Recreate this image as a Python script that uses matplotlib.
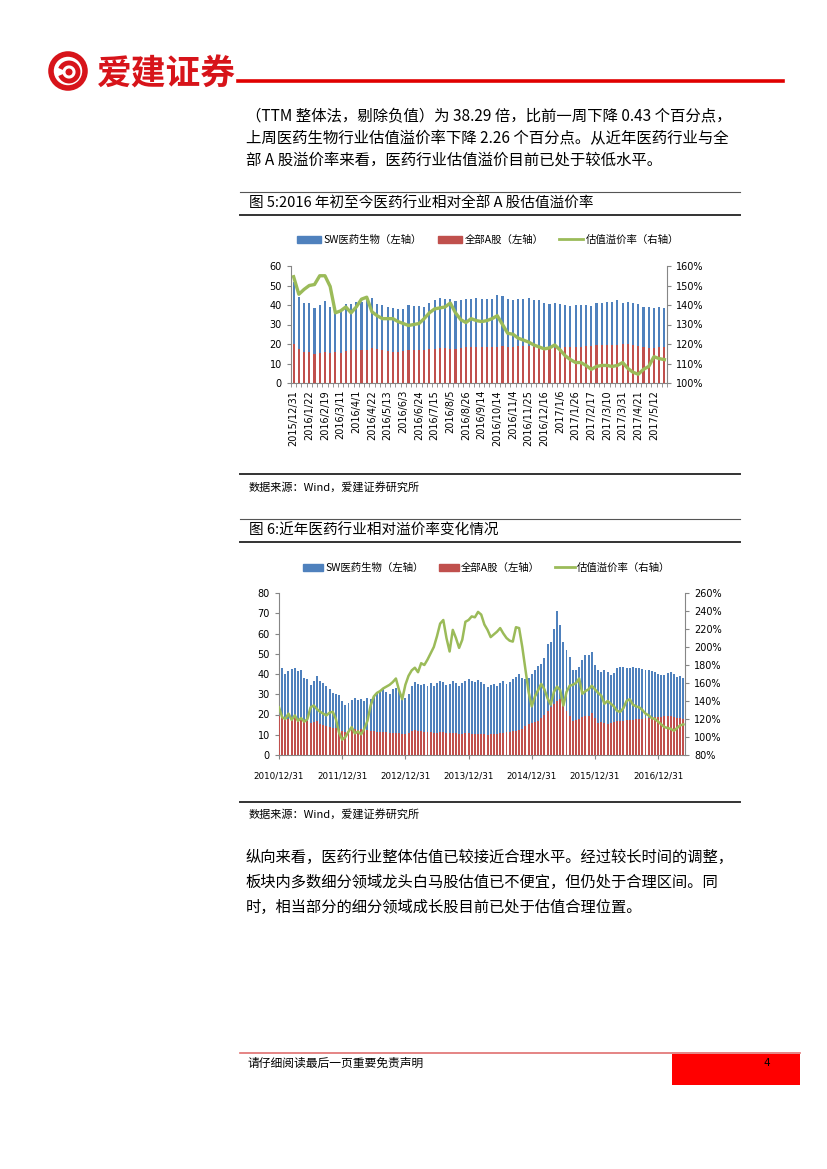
import numpy as np
import matplotlib
matplotlib.use("Agg")
import matplotlib.pyplot as plt
from matplotlib.lines import Line2D
from matplotlib.patches import Rectangle, Patch, Circle, Arc

plt.rcParams['font.family'] = ['Noto Sans CJK SC', 'DejaVu Sans']

W, H = 827, 1169

# ------------------------------------------------------ #
#        Data: 图5 (weekly, 2015/12/31 - 2017/5)         #
# ------------------------------------------------------ #
ticks5 = ['2015/12/31', '2016/1/22', '2016/2/19', '2016/3/11', '2016/4/1', '2016/4/22',
          '2016/5/13', '2016/6/3', '2016/6/24', '2016/7/15', '2016/8/5', '2016/8/26',
          '2016/9/14', '2016/10/14', '2016/11/4', '2016/11/25', '2016/12/16', '2017/1/6',
          '2017/1/26', '2017/2/17', '2017/3/10', '2017/3/31', '2017/4/21', '2017/5/12']

sw5 = [52, 44, 41, 41, 38.5, 40, 42, 39, 36, 37, 40.5, 40.5, 41.5, 41.5, 43, 43.5, 40.5, 40,
       39, 38.5, 38, 38, 40, 39.5, 39.5, 39, 41, 42.5, 43.5, 43, 43, 42, 42.5, 43, 43, 43.5,
       43, 43, 43, 45, 44.5, 43, 42.5, 43, 43, 43.5, 42.5, 42.5, 41, 40.5, 41, 40.5, 40, 39.5,
       40, 40, 40, 39.5, 41, 41, 41.5, 41.5, 42.5, 41, 41.5, 41, 40.5, 39, 39, 38.5, 39, 38.5]

a5 = [20, 17.5, 16, 16, 15, 15.5, 16, 15.5, 16, 15.5, 16.5, 17, 17, 17, 17, 18, 17.5, 17,
      16.5, 16, 16, 16.5, 17, 17, 17, 17, 17.5, 17.5, 18, 18, 17.5, 17.5, 18, 18.5, 18.5, 18.5,
      18.5, 18.5, 18.5, 18.5, 19, 18.5, 18.5, 19, 19, 19, 18.5, 18.5, 18, 18, 18, 18,
      18.5, 18.5, 18.5, 18.5, 19, 19, 19.5, 19.5, 19.5, 19.5, 19.5, 20, 20, 19.5, 19, 18.5, 18, 18, 18.5, 18.5]

prem5 = [154.5, 145.5, 148, 150, 150.5, 155, 155, 149.5, 136, 137, 139, 136, 139, 143, 144, 136.5,
         134.5, 133, 133, 133, 131.5, 130.5, 129.5, 130, 130.5, 133, 136, 138, 138.5, 139, 141, 136,
         132.5, 131, 133, 132,
         131.5, 132, 133, 134.5, 130, 125.5, 125, 123, 122, 121, 119.5, 118.5, 117.5, 118, 119.5, 117,
         114, 112, 110.5, 110.5, 109, 107, 108.5, 109, 109, 108.5, 109, 110.5, 107.5, 105.5, 104.5,
         107, 108.5, 113.5, 112.5, 112]

# ------------------------------------------------------ #
#        Data: 图6 (2010/12/31 - 2017/5)                 #
# ------------------------------------------------------ #
ticks6 = ['2010/12/31', '2011/12/31', '2012/12/31', '2013/12/31',
          '2014/12/31', '2015/12/31', '2016/12/31']

sw6 = [44, 43, 40, 41.5, 42.5, 43, 41.5, 42, 38, 37.5,
       34.5, 36.5, 39, 36.5, 35.5, 34, 32.5, 30.5, 30, 29.5,
       26.5, 24.5, 25.5, 27, 28, 27, 27.5, 26.5, 28, 27.5,
       29, 30.5, 31.5, 33, 31, 30, 32.5, 33, 32.5, 29,
       28, 30, 34, 36, 35, 34.5, 35, 34, 35.5, 34,
       35.5, 36.5, 36, 34.5, 35, 36.5, 35.5, 34, 35.5, 36.5,
       37.5, 36.5, 36, 37, 36, 35, 33.5, 34.5, 35, 34,
       35.5, 36.5, 35, 36, 37.5, 38.5, 40, 38, 37.5, 38,
       40, 42, 44, 45, 48, 55, 56, 62, 71, 64,
       56, 52, 48.5, 42, 42, 43.5, 47, 49.5, 49.5, 51,
       44.5, 42, 41, 42, 41, 39.5, 40.5, 43, 43.5, 43.5,
       43, 43, 43.5, 43, 43, 42.5, 42, 42, 41.5, 41,
       40, 39.5, 39.5, 40.5, 41, 40, 38.5, 39, 38]

a6 = [19.5, 18.5, 17.5, 18, 18.5, 19, 18, 18.5, 17, 17,
      16, 16.5, 17, 15.5, 15, 14.5, 14, 13.5, 13.5, 13,
      12, 11.5, 12, 12.5, 13, 12.5, 13, 12.5, 12.5, 12,
      12, 11.5, 11.5, 11.5, 11.5, 11, 11, 11, 11, 10.5,
      10.5, 11, 12, 12.5, 12, 12, 11.5, 11.5, 11.5, 11,
      11, 11.5, 11.5, 11, 11, 11, 11, 10.5, 10.5, 11,
      11, 10.5, 10.5, 10.5, 10.5, 10.5, 10, 10.5, 10.5, 10.5,
      11, 11, 11.5, 11.5, 12, 12, 12.5, 13, 14.5, 15.5,
      16, 16.5, 17, 18.5, 20, 21.5, 23.5, 25, 26.5, 27.5,
      25, 21.5, 19.5, 17, 17.5, 18, 19, 19.5, 19.5, 20.5,
      18.5, 16, 16.5, 16, 15.5, 16, 16.5, 17, 17, 17,
      17.5, 17.5, 17.5, 18, 18, 18, 18.5, 18.5, 19, 19,
      19, 19, 19.5, 19.5, 19.5, 19, 18.5, 18.5, 18]

prem6 = [133, 122, 120, 126, 119, 124, 118, 121, 117, 120,
         133, 135, 131, 128, 126, 124, 127, 128, 120, 105,
         97, 100, 106, 111, 104, 106, 103, 109, 118, 135,
         145, 149, 151, 154, 156, 158, 161, 165, 152, 142,
         158, 168, 174, 177, 172, 182, 180, 186, 193, 200,
         212, 226, 230, 210, 195, 219, 210, 199, 208, 228,
         230, 234, 233, 239, 236, 225, 219, 211, 214, 217,
         221, 215, 210, 207, 206, 222, 221, 200, 175, 150,
         134, 145, 152, 159, 153, 143, 136, 150, 156, 152,
         135, 150, 157, 158, 160, 165, 148, 151, 153, 157,
         153, 149, 146, 137, 140, 137, 134, 129, 128, 132,
         140, 142, 136, 134, 133, 130, 126, 124, 121, 120,
         117, 114, 111, 110, 109, 107, 110, 113, 114]

labels = ['SW医药生物（左轴）', '全部A股（左轴）', '估值溢价率（右轴）']

BLUE, RED, GREEN = '#4F81BD', '#C0504D', '#9BBB59'
AXC = '#868686'


def fx(x):
    return x / W


def fy(y):
    return 1 - y / H


def hline(fig, x0, x1, y, color, lw):
    fig.add_artist(Line2D([fx(x0), fx(x1)], [fy(y), fy(y)], color=color, lw=lw))


def style(ax, ax2):
    for s in ['top', 'right']:
        ax.spines[s].set_visible(False)
    for s in ['top', 'left', 'bottom']:
        ax2.spines[s].set_visible(False)
    for a, s in [(ax, 'left'), (ax, 'bottom'), (ax2, 'right')]:
        a.spines[s].set_color(AXC)
        a.spines[s].set_linewidth(0.8)
    for a in (ax, ax2):
        a.tick_params(axis='y', colors=AXC, labelcolor='black', labelsize=7, length=3, width=0.8)
        for t in a.get_yticklabels():
            t.set_family('DejaVu Sans')
    ax.tick_params(axis='x', colors=AXC, labelcolor='black', labelsize=7, width=0.8)


fig = plt.figure(figsize=(W / 100, H / 100), dpi=100)

# ---------------- header ----------------
logo = fig.add_axes([fx(46), fy(93), 44 / W, 44 / H])
logo.set_xlim(-1.1, 1.1)
logo.set_ylim(-1.1, 1.1)
logo.set_aspect('equal')
logo.axis('off')
logo.add_patch(Circle((0, 0), 0.85, fill=False, ec='#D7141A', lw=4))
logo.add_patch(Arc((0.05, -0.05), 0.9, 0.9, theta1=200, theta2=520, ec='#D7141A', lw=3.5))
logo.add_patch(Circle((0.05, -0.05), 0.14, color='#D7141A'))
fig.text(fx(97), fy(74), '爱建证券', fontsize=25, color='#D7141A', fontweight='bold', va='center')
hline(fig, 238, 783, 81, '#E00000', 2.6)

body1 = ['（TTM 整体法，剔除负值）为 38.29 倍，比前一周下降 0.43 个百分点，',
         '上周医药生物行业估值溢价率下降 2.26 个百分点。从近年医药行业与全',
         '部 A 股溢价率来看，医药行业估值溢价目前已处于较低水平。']
for k, s in enumerate(body1):
    fig.text(fx(246), fy(117 + 22 * k), s, fontsize=11.1, va='center')

# ---------------- 图5 ----------------
hline(fig, 240, 740, 192, '#555555', 0.8)
hline(fig, 240, 740, 215, '#333333', 1.4)
fig.text(fx(249), fy(204), '图 5:2016 年初至今医药行业相对全部 A 股估值溢价率', fontsize=10.5, va='center')

n5 = len(sw5)
x5 = np.arange(n5)
ax1 = fig.add_axes([fx(291), fy(383), (667 - 291) / W, (383 - 266) / H])
ax1.bar(x5, sw5, width=0.42, color=BLUE, zorder=2)
ax1.bar(x5, a5, width=0.42, color=RED, zorder=3)
ax1.set_xlim(-0.5, n5 - 0.5)
ax1.set_ylim(0, 60)
ax1.set_yticks(range(0, 61, 10))
ax1.set_xticks(np.arange(0, n5, 3)[:len(ticks5)])
ax1.set_xticklabels(ticks5, rotation=90, family='DejaVu Sans', fontsize=7.8)
ax1.set_xticks(np.arange(n5 + 1) - 0.5, minor=True)
ax1.tick_params(axis='x', which='major', length=0, pad=5)
ax1.tick_params(axis='x', which='minor', length=3, color=AXC, width=0.6)
ax1b = ax1.twinx()
ax1b.plot(x5, prem5, color=GREEN, lw=2.4)
ax1b.set_ylim(100, 160)
ax1b.set_yticks(range(100, 161, 10))
ax1b.set_yticklabels([f'{v}%' for v in range(100, 161, 10)])
style(ax1, ax1b)

handles = [Patch(color=BLUE), Patch(color=RED), Line2D([], [], color=GREEN, lw=2)]
fig.legend(handles, labels, loc='center', bbox_to_anchor=(fx(488), fy(240)), ncol=3,
           frameon=False, fontsize=7.5, handlelength=2.3, handleheight=0.7,
           columnspacing=1.5, handletextpad=0.25)

hline(fig, 240, 740, 474, '#333333', 1.4)
fig.text(fx(249), fy(488), '数据来源：Wind，爱建证券研究所', fontsize=8, va='center')

# ---------------- 图6 ----------------
hline(fig, 240, 740, 519, '#555555', 0.8)
hline(fig, 240, 740, 542, '#333333', 1.4)
fig.text(fx(249), fy(531), '图 6:近年医药行业相对溢价率变化情况', fontsize=10.5, va='center')

n6 = len(sw6)
x6 = np.arange(n6)
ax2 = fig.add_axes([fx(279), fy(755), (685 - 279) / W, (755 - 593) / H])
ax2.bar(x6, sw6, width=0.62, color=BLUE, zorder=2)
ax2.bar(x6, a6, width=0.62, color=RED, zorder=3)
ax2.set_xlim(0, n6 - 0.5)
ax2.set_ylim(0, 80)
ax2.set_yticks(range(0, 81, 10))
ax2.set_xticks(np.arange(0, n6, 20)[:len(ticks6)])
ax2.set_xticklabels(ticks6, family='DejaVu Sans', fontsize=6.3)
ax2.tick_params(axis='x', which='major', length=3, pad=9)
ax2b = ax2.twinx()
ax2b.plot(x6, prem6, color=GREEN, lw=1.8)
ax2b.set_ylim(80, 260)
ax2b.set_yticks(range(80, 261, 20))
ax2b.set_yticklabels([f'{v}%' for v in range(80, 261, 20)])
style(ax2, ax2b)
for t in ax2.get_xticklabels():
    t.set_fontsize(6.3)

fig.legend(handles, labels, loc='center', bbox_to_anchor=(fx(487), fy(568)), ncol=3,
           frameon=False, fontsize=7.5, handlelength=1.9, handleheight=0.7,
           columnspacing=1.4, handletextpad=0.25)

hline(fig, 240, 740, 802, '#333333', 1.4)
fig.text(fx(249), fy(815), '数据来源：Wind，爱建证券研究所', fontsize=8, va='center')

body2 = ['纵向来看，医药行业整体估值已较接近合理水平。经过较长时间的调整，',
         '板块内多数细分领域龙头白马股估值已不便宜，但仍处于合理区间。同',
         '时，相当部分的细分领域成长股目前已处于估值合理位置。']
for k, s in enumerate(body2):
    fig.text(fx(246), fy(857 + 25 * k), s, fontsize=11.0, va='center')

# ---------------- footer ----------------
hline(fig, 240, 800, 1053, '#E07070', 1.2)
fig.add_artist(Rectangle((fx(672), fy(1085)), 128 / W, 31 / H, transform=fig.transFigure,
                         color='#FF0000', lw=0))
fig.text(fx(248), fy(1063), '请仔细阅读最后一页重要免责声明', fontsize=8.5, va='center')
fig.text(fx(767), fy(1063), '4', fontsize=7.5, va='center', ha='center', family='DejaVu Sans')

fig.savefig('out.png', dpi=100)
